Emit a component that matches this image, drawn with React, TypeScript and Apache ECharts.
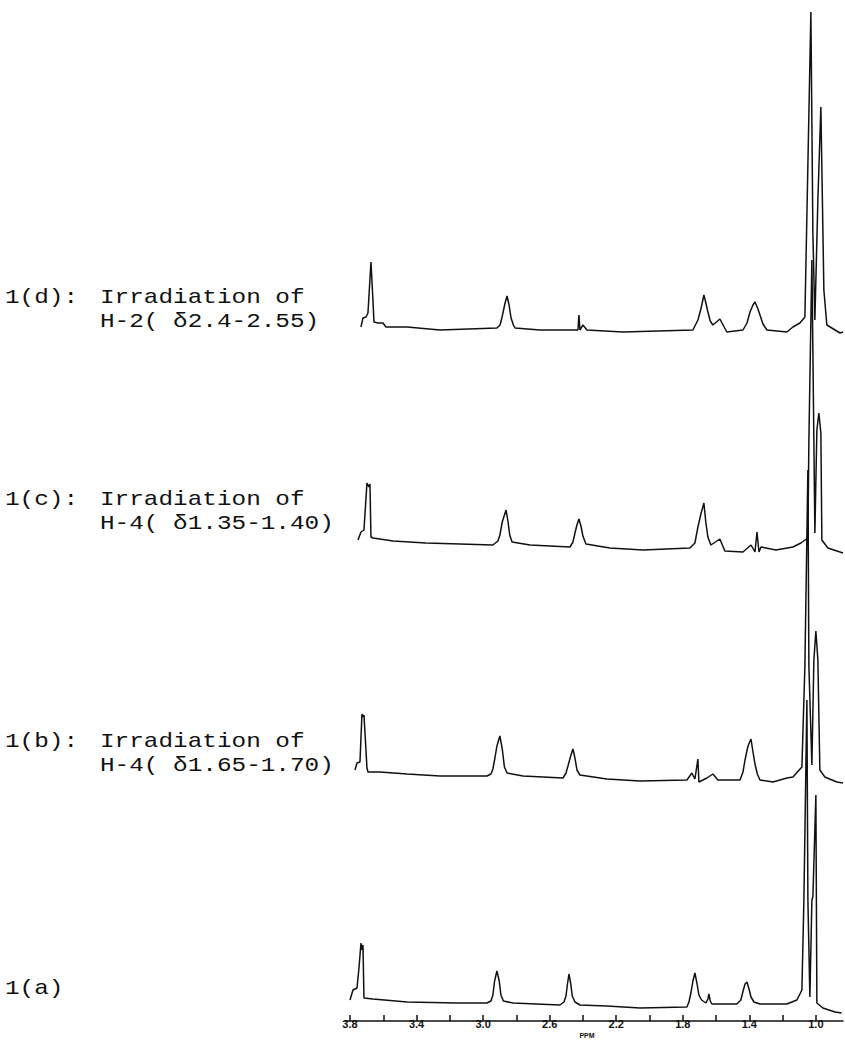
import { useEffect, useRef } from 'react';
import * as echarts from 'echarts';

// ppm axis
const majorTicks = [1.0, 1.4, 1.8, 2.2, 2.6, 3.0, 3.4, 3.8];
const minorTicks = [1.0, 1.2, 1.4, 1.6, 1.8, 2.0, 2.2, 2.4, 2.6, 2.8, 3.0, 3.2, 3.4, 3.6, 3.8];
const ppmMin = 0.837;
const ppmMax = 3.83;

// spectrum traces: [ppm, relative intensity above own baseline]
const trace1a: [number, number][] = [
  [3.80, 3], [3.782, 13], [3.758, 15], [3.746, 35], [3.734, 60], [3.728, 53], [3.722, 58], [3.716, 5],
  [3.662, 4], [3.457, 1], [3.157, 0], [2.977, 0], [2.953, 2], [2.941, 8], [2.931, 22], [2.917, 32],
  [2.903, 22], [2.893, 8], [2.878, 2], [2.820, 0], [2.538, -2], [2.514, 1], [2.502, 7], [2.492, 20],
  [2.484, 29], [2.474, 20], [2.464, 7], [2.448, 1], [2.418, -2], [2.256, -3], [2.057, -5], [1.775, -4],
  [1.763, 1], [1.751, 10], [1.739, 22], [1.727, 30], [1.715, 20], [1.703, 8], [1.687, 3], [1.661, 0],
  [1.649, 4], [1.643, 9], [1.635, 2], [1.625, -1], [1.475, -1], [1.451, 3], [1.439, 11], [1.426, 19],
  [1.414, 21], [1.402, 14], [1.390, 6], [1.372, 1], [1.336, -1], [1.174, -1], [1.114, 3], [1.084, 13],
  [1.072, 103], [1.054, 303], [1.048, 103], [1.036, 6], [1.024, 103], [1.018, 106], [1.000, 208],
  [0.994, 0], [0.958, -5], [0.885, -9], [0.845, -10],
];

const trace1b: [number, number][] = [
  [3.770, 6], [3.758, 13], [3.740, 14], [3.728, 62], [3.722, 59], [3.716, 61], [3.698, 8], [3.692, 4],
  [3.620, 4], [3.457, 2], [3.259, 0], [2.977, 0], [2.953, 2], [2.941, 7], [2.929, 18], [2.917, 30],
  [2.899, 40], [2.884, 26], [2.872, 9], [2.856, 3], [2.760, 0], [2.520, -2], [2.502, 3], [2.490, 10],
  [2.472, 21], [2.460, 27], [2.448, 18], [2.436, 6], [2.418, 1], [2.256, -3], [2.057, -5], [1.775, -4],
  [1.745, 3], [1.727, -3], [1.709, 17], [1.703, -6], [1.655, -2], [1.619, 2], [1.589, -4], [1.456, -4],
  [1.438, 4], [1.426, 16], [1.408, 30], [1.390, 37], [1.378, 24], [1.366, 12], [1.352, 2], [1.336, -4],
  [1.258, -6], [1.174, -2], [1.138, -1], [1.084, 9], [1.066, 110], [1.048, 306], [1.042, 110],
  [1.024, 11], [1.012, 116], [1.000, 145], [0.988, 116], [0.976, 6], [0.946, -1], [0.874, -6],
  [0.837, -7],
];

const trace1c: [number, number][] = [
  [3.752, 0], [3.734, 8], [3.716, 10], [3.698, 57], [3.686, 53], [3.680, 56], [3.674, 3], [3.662, 2],
  [3.541, -1], [3.343, -3], [3.139, -4], [2.941, -5], [2.911, -1], [2.899, 5], [2.885, 18], [2.862, 30],
  [2.850, 18], [2.840, 5], [2.826, -2], [2.718, -5], [2.478, -7], [2.460, -2], [2.448, 7], [2.436, 15],
  [2.424, 21], [2.412, 14], [2.400, 4], [2.382, -4], [2.238, -8], [2.039, -10], [1.757, -8], [1.727, -3],
  [1.709, 13], [1.691, 26], [1.673, 37], [1.661, 17], [1.649, 3], [1.631, -5], [1.577, 1], [1.547, -11],
  [1.438, -12], [1.390, -5], [1.366, -12], [1.354, 8], [1.342, -12], [1.330, -7], [1.240, -10],
  [1.138, -7], [1.090, -3], [1.048, 2], [1.042, 100], [1.024, 280], [1.006, 7], [0.994, 110],
  [0.982, 127], [0.970, 107], [0.964, 0], [0.928, -8], [0.837, -13],
];

const trace1d: [number, number][] = [
  [3.734, 0], [3.722, 9], [3.704, 10], [3.692, 14], [3.674, 65], [3.662, 27], [3.656, 5], [3.632, 4],
  [3.602, 4], [3.584, 0], [3.457, 0], [3.259, -3], [2.917, -1], [2.898, 2], [2.886, 10], [2.868, 24],
  [2.856, 31], [2.844, 22], [2.832, 9], [2.818, 2], [2.808, -1], [2.658, -3], [2.460, -3], [2.430, -3],
  [2.424, 12], [2.418, -3], [2.400, 2], [2.376, -3], [2.160, -5], [1.739, -3], [1.709, 7], [1.691, 18],
  [1.673, 32], [1.661, 24], [1.649, 15], [1.635, 6], [1.619, 2], [1.577, 8], [1.535, -5], [1.438, -3],
  [1.414, 4], [1.396, 15], [1.378, 22], [1.366, 25], [1.348, 18], [1.336, 12], [1.318, 3], [1.294, -3],
  [1.174, -5], [1.138, 0], [1.096, 4], [1.066, 10], [1.030, 315], [1.018, 94], [1.006, 7], [0.988, 127],
  [0.970, 220], [0.952, 37], [0.934, 2], [0.855, -6], [0.837, -5],
];

const traceNames = ['1(a)', '1(b)', '1(c)', '1(d)'];
const traceOffsets = [18, 245, 481, 694];
const traces = [trace1a, trace1b, trace1c, trace1d];

const labelFirst = ['1(a)', '1(b):', '1(c):', '1(d):'];
const labelSecond = ['', 'Irradiation of', 'Irradiation of', 'Irradiation of'];
const labelThird = ['', 'H-4( δ1.65-1.70)', 'H-4( δ1.35-1.40)', 'H-2( δ2.4-2.55)'];

export default function App() {
  const ref = useRef<HTMLDivElement>(null);
  useEffect(() => {
    if (!ref.current) return;
    const chart = echarts.init(ref.current, null, { renderer: 'svg' });
    const font = "'Liberation Mono', 'DejaVu Sans Mono', monospace";
    const labelY = [988, 741, 499, 297];
    const line2Y = [0, 765, 523, 321];
    const fs = 21;
    const sx = 1.16;
    const graphics: any[] = [];
    const txt = (text: string, x: number, y: number) => ({
      type: 'text', x, y, scaleX: sx, scaleY: 1,
      style: { text, fontFamily: font, fontSize: fs, fill: '#111', verticalAlign: 'middle' },
    });
    for (let i = 0; i < 4; i++) {
      graphics.push(txt(labelFirst[i], 5, labelY[i]));
      if (labelSecond[i]) {
        graphics.push(txt(labelSecond[i], 100, labelY[i]));
        graphics.push(txt(labelThird[i], 100, line2Y[i]));
      }
    }
    graphics.push({
      type: 'text', x: 587, y: 1035,
      style: { text: 'PPM', fontFamily: 'Liberation Sans', fontSize: 7, fontWeight: 'bold', fill: '#111', align: 'center', verticalAlign: 'middle' },
    });

    chart.setOption({
      animation: false,
      backgroundColor: '#fff',
      grid: { left: 345, right: 2, top: 0, bottom: 22 },
      xAxis: {
        type: 'value',
        min: ppmMin,
        max: ppmMax,
        inverse: true,
        axisLine: { show: true, lineStyle: { color: '#111', width: 1.5 } },
        axisTick: { show: true, inside: true, length: 6, customValues: minorTicks, lineStyle: { color: '#111', width: 1.5 } },
        axisLabel: {
          show: true,
          customValues: majorTicks,
          formatter: (v: number) => v.toFixed(1),
          fontSize: 11,
          fontWeight: 'bold',
          fontFamily: 'Liberation Sans',
          color: '#111',
          margin: -3,
        },
        splitLine: { show: false },
      },
      yAxis: {
        type: 'value',
        min: 0,
        max: 1021,
        show: false,
        splitLine: { show: false },
      },
      series: traces.map((t, i) => ({
        name: traceNames[i],
        type: 'line',
        showSymbol: false,
        symbol: 'none',
        data: t.map(([x, v]) => [x, v + traceOffsets[i]]),
        lineStyle: { color: '#111', width: 1.5 },
        clip: false,
        z: 2,
      })),
      graphic: graphics,
    });
    return () => chart.dispose();
  }, []);
  return (
    <div
      ref={ref}
      style={{ position: 'absolute', left: 0, top: 0, width: 845, height: 1043, background: '#fff' }}
    />
  );
}
